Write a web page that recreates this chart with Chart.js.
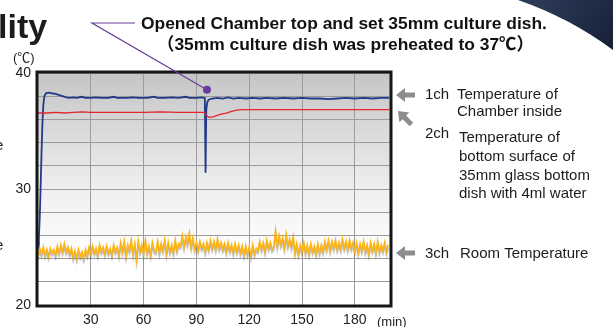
<!DOCTYPE html>
<html>
<head>
<meta charset="utf-8">
<script src="https://cdn.jsdelivr.net/npm/chart.js@4"></script>
<style>
  html, body { margin: 0; padding: 0; background: #fff; }
  #chart { display: block; }
</style>
</head>
<body>
<canvas id="chart" width="613" height="327"></canvas>
<script>
// 1ch: chamber inside temperature [minute, degC]
const chamberTemp = [
  [0,24.9],[0.5,25.8],[1,27.6],[1.5,30.2],[2,33.1],[2.5,35.6],[3,37.2],[3.6,38.0],[4.5,38.25],[6,38.3],
  [8,38.25],[10,38.2],[12,38.1],[14,38.0],[16,37.9],[18,37.85],[20,37.9],[22,37.85],[25,37.95],[27,37.85],
  [30,37.85],[33,37.9],[36,37.85],[40,37.85],[43,37.95],[45,37.85],[50,37.85],[54,37.9],[57,37.85],[62,37.85],
  [66,37.95],[68,37.85],[72,37.85],[76,37.9],[80,37.85],[84,37.95],[86,37.85],[90,37.85],[93,37.9],[94.8,37.85],
  [95.2,31.4],[95.6,36.8],[96.2,37.5],[97,37.7],[99,37.8],[102,37.85],[105,37.8],[108,37.9],[111,37.8],[114,37.85],
  [118,37.8],[122,37.85],[126,37.8],[130,37.85],[135,37.8],[140,37.85],[145,37.8],[150,37.85],[155,37.8],[160,37.8],
  [165,37.75],[170,37.8],[175,37.85],[180,37.8],[185,37.85],[190,37.8],[195,37.85],[199.5,37.85]
]

// 2ch: bottom surface of 35mm glass bottom dish [minute, degC]
const dishTemp = [
  [0,36.55],[5,36.55],[10,36.6],[15,36.55],[20,36.6],[25,36.65],[30,36.6],[40,36.6],[50,36.6],[60,36.6],
  [70,36.65],[80,36.6],[90,36.6],[94.5,36.6],[95.5,36.35],[97,36.2],[99,36.2],[101,36.3],[104,36.45],[107,36.55],
  [110,36.7],[113,36.8],[116,36.85],[120,36.85],[130,36.85],[140,36.85],[150,36.85],[160,36.85],[170,36.85],[180,36.85],
  [190,36.85],[199.5,36.85]
]

// 3ch: room temperature, one reading per minute from 0 to 199
const roomTemp = [
  24.2,24.9,24.4,25.0,24.3,24.8,24.2,24.9,24.5,24.8,24.3,
  25.1,24.5,25.2,24.6,25.3,24.6,25.0,24.4,24.9,
  24.1,24.7,24.0,24.8,24.2,24.6,24.0,24.8,24.3,
  25.0,24.4,25.1,24.5,24.9,24.3,25.2,24.6,25.0,24.4,25.1,24.5,24.9,24.3,25.2,24.6,25.0,
  24.3,25.4,24.6,25.5,24.2,25.2,24.7,25.6,24.4,25.3,23.9,25.5,24.6,25.2,24.4,25.6,24.5,25.1,24.3,25.4,24.7,
  24.6,25.5,24.5,25.3,24.7,25.6,24.4,25.4,24.6,25.2,24.5,25.6,24.7,25.3,
  25.1,26.0,25.0,25.9,25.3,26.2,25.0,25.8,
  24.8,25.4,24.7,25.5,24.9,25.3,24.6,25.4,
  24.8,25.6,24.9,25.5,24.8,25.7,24.9,25.4,24.8,
  25.3,24.6,25.4,24.7,25.2,24.5,25.3,24.6,25.2,24.5,25.1,
  24.3,25.1,24.4,25.0,24.2,25.2,24.4,24.9,
  24.7,25.5,24.8,25.4,24.6,25.6,24.9,25.4,24.8,
  25.0,26.4,25.1,26.0,25.2,25.8,24.9,26.1,25.1,25.7,25.0,25.9,
  24.5,25.3,24.4,25.2,24.6,25.4,24.5,25.2,24.4,25.3,24.6,25.1,24.4,25.3,24.5,25.2,24.6,
  25.5,24.8,25.6,24.7,25.5,24.9,25.6,24.8,25.4,24.8,25.7,24.9,25.5,24.8,25.6,24.9,25.4,
  24.6,25.4,24.5,25.3,24.7,25.5,24.6,25.2,24.4,25.4,24.7,25.3,24.5,25.5,24.6,25.2,24.7,25.4,24.6,25.2
]

const minuteTicks = [30, 60, 90, 120, 150, 180]

// event marker: chamber top opened
const openedAt = { x: 96, y: 38.55 }

const FONT = "'Liberation Sans', Arial, 'Noto Sans CJK JP', sans-serif"

const toPoints = arr => arr.map(p => ({ x: p[0], y: p[1] }))

const backdrop = {
  id: 'backdrop',
  beforeDraw(chart) {
    const { ctx, chartArea: a } = chart
    const g = ctx.createLinearGradient(0, a.top, 0, a.bottom)
    g.addColorStop(0, '#c5c5c5')
    g.addColorStop(0.5, '#efefef')
    g.addColorStop(0.78, '#ffffff')
    ctx.save()
    ctx.fillStyle = g
    ctx.fillRect(a.left, a.top, a.right - a.left, a.bottom - a.top)
    ctx.restore()
  }
}

const shadowLine = {
  id: 'shadowLine',
  beforeDatasetDraw(chart, args) {
    if (args.meta.label !== '3ch') return
    const ctx = chart.ctx
    ctx.save()
    ctx.shadowColor = 'rgba(0,0,0,0.28)'
    ctx.shadowOffsetY = 3
    ctx.shadowBlur = 1
  },
  afterDatasetDraw(chart, args) {
    if (args.meta.label !== '3ch') return
    chart.ctx.restore()
  }
}

function arrow(ctx, x, y, angle) {
  ctx.save()
  ctx.translate(x, y)
  ctx.rotate(angle)
  ctx.fillStyle = '#8d8d8d'
  ctx.beginPath()
  ctx.moveTo(0, 0)
  ctx.lineTo(9, -7)
  ctx.lineTo(9, -2.5)
  ctx.lineTo(19, -2.5)
  ctx.lineTo(19, 2.5)
  ctx.lineTo(9, 2.5)
  ctx.lineTo(9, 7)
  ctx.closePath()
  ctx.fill()
  ctx.restore()
}

const decorations = {
  id: 'decorations',
  afterDatasetsDraw(chart) {
    const { ctx, chartArea: a } = chart
    ctx.save()
    ctx.strokeStyle = '#161616'
    ctx.lineWidth = 3
    ctx.strokeRect(a.left - 1, a.top - 1, a.right - a.left + 2, a.bottom - a.top + 2)
    ctx.restore()
  },
  afterDraw(chart) {
    const { ctx, scales } = chart
    ctx.save()

    // corner graphic
    const cg = ctx.createLinearGradient(540, 0, 613, 45)
    cg.addColorStop(0, '#2c3a58')
    cg.addColorStop(1, '#172238')
    ctx.fillStyle = cg
    ctx.beginPath()
    ctx.moveTo(518, 0)
    ctx.quadraticCurveTo(570, 18, 613, 50)
    ctx.lineTo(613, 0)
    ctx.closePath()
    ctx.fill()

    ctx.fillStyle = '#1c1c1c'
    ctx.textBaseline = 'alphabetic'
    ctx.font = 'bold 34px ' + FONT
    ctx.fillText('lity', -2, 38)
    ctx.font = '15px ' + FONT
    ctx.fillText('e', -5, 150)
    ctx.fillText('e', -5, 250)

    ctx.font = '13px ' + FONT
    ctx.fillStyle = '#222'
    ctx.fillText('(℃)', 13, 62)
    ctx.fillText('(min)', 377, 326)

    // annotation
    const px = scales.x.getPixelForValue(openedAt.x)
    const py = scales.y.getPixelForValue(openedAt.y)
    ctx.strokeStyle = '#6a3d9a'
    ctx.lineWidth = 1.2
    ctx.beginPath()
    ctx.moveTo(135, 23)
    ctx.lineTo(92, 23)
    ctx.lineTo(px, py)
    ctx.stroke()
    ctx.fillStyle = '#6a3d9a'
    ctx.beginPath()
    ctx.arc(px, py, 4, 0, Math.PI * 2)
    ctx.fill()

    ctx.fillStyle = '#111'
    ctx.font = 'bold 17.4px ' + FONT
    ctx.fillText('Opened Chamber top and set 35mm culture dish.', 141, 29)
    ctx.fillText('（35mm culture dish was preheated to 37℃）', 157, 50)

    // channel labels
    arrow(ctx, 396, 95, 0)
    arrow(ctx, 398, 111, Math.PI / 4)
    arrow(ctx, 396, 253, 0)
    ctx.fillStyle = '#1c1c1c'
    ctx.font = '15px ' + FONT
    ctx.fillText('1ch', 425, 99)
    ctx.fillText('Temperature of', 457, 99)
    ctx.fillText('Chamber inside', 457, 116)
    ctx.fillText('2ch', 425, 138)
    ctx.fillText('Temperature of', 459, 142)
    ctx.fillText('bottom surface of', 459, 161)
    ctx.fillText('35mm glass bottom', 459, 180)
    ctx.fillText('dish with 4ml water', 459, 198)
    ctx.fillText('3ch', 425, 258)
    ctx.fillText('Room Temperature', 460, 258)
    ctx.restore()
  }
}

new Chart(document.getElementById('chart'), {
  type: 'line',
  data: {
    datasets: [
      {
        label: '3ch',
        data: roomTemp.map((v, i) => ({ x: i, y: v })),
        borderColor: '#fdb414',
        borderWidth: 1.6,
        pointRadius: 0,
        tension: 0
      },
      {
        label: '2ch',
        data: toPoints(dishTemp),
        borderColor: '#e3262b',
        borderWidth: 1.3,
        pointRadius: 0,
        tension: 0
      },
      {
        label: '1ch',
        data: toPoints(chamberTemp),
        borderColor: '#223a8a',
        borderWidth: 1.8,
        pointRadius: 0,
        tension: 0
      }
    ]
  },
  options: {
    responsive: false,
    animation: false,
    devicePixelRatio: 1,
    layout: { padding: { top: 73, right: 223, left: 0, bottom: 0 } },
    plugins: { legend: { display: false }, tooltip: { enabled: false } },
    scales: {
      x: {
        type: 'linear',
        min: 0,
        max: 200,
        afterFit(s) { s.height = 22 },
        afterBuildTicks(s) { s.ticks = minuteTicks.map(v => ({ value: v })) },
        border: { display: false },
        grid: { color: '#9c9c9c', lineWidth: 1, drawTicks: false },
        ticks: {
          autoSkip: false,
          maxRotation: 0,
          padding: 7,
          color: '#222',
          font: { size: 14, family: FONT }
        }
      },
      y: {
        min: 20,
        max: 40,
        afterFit(s) { s.width = 38 },
        border: { display: false },
        grid: { color: '#9c9c9c', lineWidth: 1, drawTicks: false },
        ticks: {
          stepSize: 2,
          autoSkip: false,
          padding: 7,
          color: '#222',
          font: { size: 14, family: FONT },
          callback: v => v % 10 === 0 ? v : ''
        }
      }
    }
  },
  plugins: [backdrop, shadowLine, decorations]
})
</script>
</body>
</html>
